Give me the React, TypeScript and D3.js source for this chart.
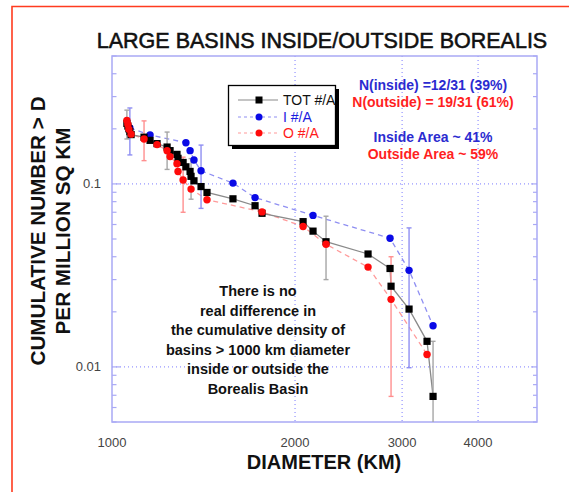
import React, { useEffect, useRef } from 'react';
import * as d3 from 'd3';

// cumulative number > D per million sq km
const totDiam = [1058, 1062, 1066, 1070, 1075, 1129, 1155, 1186, 1232, 1246, 1279, 1284, 1309, 1323, 1344, 1349, 1364, 1401, 1433, 1581, 1719, 1765, 2062, 2141, 2249, 2637, 2866, 2877, 3080, 3297, 3373];
const totDens = [0.214, 0.207, 0.2, 0.193, 0.186, 0.18, 0.173, 0.166, 0.159, 0.152, 0.145, 0.138, 0.131, 0.124, 0.117, 0.11, 0.104, 0.0967, 0.0898, 0.0829, 0.076, 0.0691, 0.0622, 0.0552, 0.0483, 0.0414, 0.0345, 0.0276, 0.0207, 0.0138, 0.0069];

const inDiam = [1070, 1155, 1323, 1344, 1364, 1401, 1581, 1719, 2141, 2866, 3080, 3373];
const inDens = [0.202, 0.185, 0.168, 0.152, 0.135, 0.118, 0.101, 0.0842, 0.0673, 0.0505, 0.0337, 0.0168];

const outDiam = [1058, 1062, 1066, 1075, 1129, 1186, 1232, 1246, 1279, 1284, 1309, 1349, 1433, 1765, 2062, 2249, 2637, 2877, 3297];
const outDens = [0.222, 0.211, 0.199, 0.187, 0.176, 0.164, 0.152, 0.141, 0.129, 0.117, 0.105, 0.0937, 0.082, 0.0703, 0.0585, 0.0468, 0.0351, 0.0234, 0.0117];

// error bars (only some points carry them)
const totErrDiam = [1058, 1232, 1349, 2249, 3373];
const totErrLo = [0.176, 0.12, 0.0825, 0.03, 0.003];
const totErrHi = [0.253, 0.192, 0.1375, 0.0666, 0.0138];

const inErrDiam = [1070, 1401, 3080];
const inErrLo = [0.144, 0.0735, 0.0099];
const inErrHi = [0.26, 0.163, 0.0575];

const outErrDiam = [1129, 1309, 2877];
const outErrLo = [0.134, 0.07, 0.0069];
const outErrHi = [0.221, 0.14, 0.04];

const xTicks = [1000, 2000, 3000, 4000];
const xGrid = [2000, 3000, 4000];
const yGrid = [0.1, 0.01];
const yLabels = [0.1, 0.01];

const noteLines = [
  'There is no',
  'real difference in',
  'the cumulative density of',
  'basins > 1000 km diameter',
  'inside or outside the',
  'Borealis Basin',
];

const FONT = 'Arial, "Liberation Sans", Helvetica, sans-serif';

const App = () => {
  const ref = useRef<SVGSVGElement>(null);

  useEffect(() => {
    const svg = d3.select(ref.current);
    svg.selectAll('*').remove();

    const left = 112, right = 537, top = 56, bottom = 422;
    const x = d3.scaleLog().domain([1000, 5000]).range([left, right]);
    const y = d3.scaleLog().domain([0.005, 0.5]).range([bottom, top]);

    // orange page border (left + top)
    svg.append('path')
      .attr('d', 'M12,492V6.5H569')
      .attr('fill', 'none')
      .attr('stroke', '#ff3b1f')
      .attr('stroke-width', 1.6);

    svg.append('text')
      .attr('x', 322).attr('y', 48)
      .attr('text-anchor', 'middle')
      .attr('font-family', FONT)
      .attr('font-size', 21.5)
      .attr('fill', '#111')
      .attr('stroke', '#111')
      .attr('stroke-width', 0.55)
      .text('LARGE BASINS INSIDE/OUTSIDE BOREALIS');

    svg.append('defs').append('clipPath').attr('id', 'plotclip')
      .append('rect')
      .attr('x', left).attr('y', top)
      .attr('width', right - left).attr('height', bottom - top);

    // dotted grid
    const grid = svg.append('g')
      .attr('stroke', '#7b7bff')
      .attr('stroke-width', 1)
      .attr('stroke-dasharray', '1,3');
    grid.selectAll('.gx').data(xGrid).join('line')
      .attr('x1', d => x(d)).attr('x2', d => x(d))
      .attr('y1', top).attr('y2', bottom);
    grid.selectAll('.gy').data(yGrid).join('line')
      .attr('x1', left).attr('x2', right)
      .attr('y1', d => y(d)).attr('y2', d => y(d));

    // frame
    svg.append('rect')
      .attr('x', left).attr('y', top)
      .attr('width', right - left).attr('height', bottom - top)
      .attr('fill', 'none')
      .attr('stroke', '#a9a9f5')
      .attr('stroke-width', 1.5);

    // y ticks, inward on both sides
    const isMajor = (v: number) => Math.abs(Math.log10(v) - Math.round(Math.log10(v))) < 1e-6;
    const yt = y.ticks();
    const ticks = svg.append('g').attr('stroke', '#a9a9f5').attr('stroke-width', 1.2);
    ticks.selectAll('.tl').data(yt).join('line')
      .attr('x1', left).attr('x2', d => left + (isMajor(d) ? 8 : 4.5))
      .attr('y1', d => y(d)).attr('y2', d => y(d));
    ticks.selectAll('.tr').data(yt).join('line')
      .attr('x1', right).attr('x2', d => right - (isMajor(d) ? 6 : 4))
      .attr('y1', d => y(d)).attr('y2', d => y(d));

    // tick labels
    svg.append('g').selectAll('text').data(xTicks).join('text')
      .attr('x', d => x(d)).attr('y', 447)
      .attr('text-anchor', 'middle')
      .attr('font-family', FONT).attr('font-size', 13)
      .attr('fill', '#444')
      .text(d => d);
    svg.append('g').selectAll('text').data(yLabels).join('text')
      .attr('x', 101).attr('y', d => y(d) + 4.5)
      .attr('text-anchor', 'end')
      .attr('font-family', FONT).attr('font-size', 13)
      .attr('fill', '#444')
      .text(d => d);

    // axis titles
    svg.append('text')
      .attr('x', 324).attr('y', 469)
      .attr('text-anchor', 'middle')
      .attr('font-family', FONT).attr('font-size', 20).attr('font-weight', 'bold')
      .attr('fill', '#111')
      .text('DIAMETER (KM)');
    const yt1 = svg.append('text')
      .attr('transform', 'rotate(-90)')
      .attr('text-anchor', 'middle')
      .attr('font-family', FONT).attr('font-size', 20.7).attr('font-weight', 'bold')
      .attr('fill', '#111');
    yt1.append('tspan').attr('x', -231).attr('y', 45).text('CUMULATIVE NUMBER > D');
    yt1.append('tspan').attr('x', -231).attr('y', 70).text('PER MILLION SQ KM');

    const plot = svg.append('g').attr('clip-path', 'url(#plotclip)');

    const line = d3.line<[number, number]>()
      .x(d => x(d[0]))
      .y(d => y(d[1]));

    const inPts = d3.zip(inDiam, inDens) as [number, number][];
    const outPts = d3.zip(outDiam, outDens) as [number, number][];
    const totPts = d3.zip(totDiam, totDens) as [number, number][];

    plot.append('path').attr('d', line(inPts))
      .attr('fill', 'none').attr('stroke', '#8f8ff2')
      .attr('stroke-width', 1.3).attr('stroke-dasharray', '5,4');
    plot.append('path').attr('d', line(outPts))
      .attr('fill', 'none').attr('stroke', '#ff9a9a')
      .attr('stroke-width', 1.3).attr('stroke-dasharray', '5,4');
    plot.append('path').attr('d', line(totPts))
      .attr('fill', 'none').attr('stroke', '#8a8a8a')
      .attr('stroke-width', 1.3);

    // error bars
    const errBars = (diam: number[], lo: number[], hi: number[], color: string) => {
      const g = plot.append('g').attr('stroke', color).attr('stroke-width', 1.4);
      diam.forEach((d, i) => {
        const cx = x(d);
        g.append('line').attr('x1', cx).attr('x2', cx).attr('y1', y(hi[i])).attr('y2', y(lo[i]));
        g.append('line').attr('x1', cx - 2.5).attr('x2', cx + 2.5).attr('y1', y(hi[i])).attr('y2', y(hi[i]));
        g.append('line').attr('x1', cx - 2.5).attr('x2', cx + 2.5).attr('y1', y(lo[i])).attr('y2', y(lo[i]));
      });
    };
    errBars(totErrDiam, totErrLo, totErrHi, '#a6a6a6');
    errBars(inErrDiam, inErrLo, inErrHi, '#8f8ff2');
    errBars(outErrDiam, outErrLo, outErrHi, '#ff8f8f');

    plot.selectAll('.bi').data(inPts).join('circle')
      .attr('cx', d => x(d[0])).attr('cy', d => y(d[1]))
      .attr('r', 3.7).attr('fill', '#0a0ae6');
    plot.selectAll('.bt').data(totPts).join('rect')
      .attr('x', d => x(d[0]) - 3.6).attr('y', d => y(d[1]) - 3.6)
      .attr('width', 7.2).attr('height', 7.2).attr('fill', '#000');
    plot.selectAll('.bo').data(outPts).join('circle')
      .attr('cx', d => x(d[0])).attr('cy', d => y(d[1]))
      .attr('r', 3.7).attr('fill', '#ff0a0a');

    // legend
    const lg = svg.append('g');
    lg.append('rect').attr('x', 232).attr('y', 89).attr('width', 107).attr('height', 60).attr('fill', '#000');
    lg.append('rect').attr('x', 228.5).attr('y', 85.5).attr('width', 107).attr('height', 60)
      .attr('fill', '#fff').attr('stroke', '#000').attr('stroke-width', 1.3);
    const rows = [
      { label: 'TOT #/A', color: '#111', line: '#8a8a8a', dash: null, y: 100, mark: 'sq', mcol: '#000' },
      { label: 'I #/A', color: '#1a1ae0', line: '#8f8ff2', dash: '3,3', y: 117, mark: 'c', mcol: '#0a0ae6' },
      { label: 'O #/A', color: '#ff1a1a', line: '#ff9a9a', dash: '3,3', y: 133, mark: 'c', mcol: '#ff0a0a' },
    ];
    rows.forEach(r => {
      const ln = lg.append('line').attr('x1', 238).attr('x2', 278).attr('y1', r.y).attr('y2', r.y)
        .attr('stroke', r.line).attr('stroke-width', 1.2);
      if (r.dash) ln.attr('stroke-dasharray', r.dash);
      if (r.mark === 'sq') {
        lg.append('rect').attr('x', 255.5).attr('y', r.y - 3.5).attr('width', 7).attr('height', 7).attr('fill', r.mcol);
      } else {
        lg.append('circle').attr('cx', 259).attr('cy', r.y).attr('r', 3.5).attr('fill', r.mcol);
      }
      lg.append('text').attr('x', 283).attr('y', r.y + 5)
        .attr('font-family', FONT).attr('font-size', 14)
        .attr('fill', r.color).text(r.label);
    });

    // annotations
    const ann = [
      { t: 'N(inside) =12/31 (39%)', c: '#2b2bd0', y: 90 },
      { t: 'N(outside) = 19/31 (61%)', c: '#ff1f1f', y: 107 },
      { t: 'Inside Area ~ 41%', c: '#2b2bd0', y: 142 },
      { t: 'Outside Area ~ 59%', c: '#ff1f1f', y: 159 },
    ];
    svg.append('g').selectAll('text').data(ann).join('text')
      .attr('x', 433).attr('y', d => d.y)
      .attr('text-anchor', 'middle')
      .attr('font-family', FONT).attr('font-size', 14).attr('font-weight', 'bold')
      .attr('fill', d => d.c)
      .text(d => d.t);

    svg.append('g').selectAll('text').data(noteLines).join('text')
      .attr('x', 258).attr('y', (d, i) => 296 + i * 19.5)
      .attr('text-anchor', 'middle')
      .attr('font-family', FONT).attr('font-size', 14.5).attr('font-weight', 'bold')
      .attr('fill', '#111')
      .text(d => d);
  }, []);

  return (
    <svg
      ref={ref}
      width={569}
      height={492}
      style={{ position: 'absolute', left: 0, top: 0, background: '#fff' }}
    />
  );
};

export default App;
